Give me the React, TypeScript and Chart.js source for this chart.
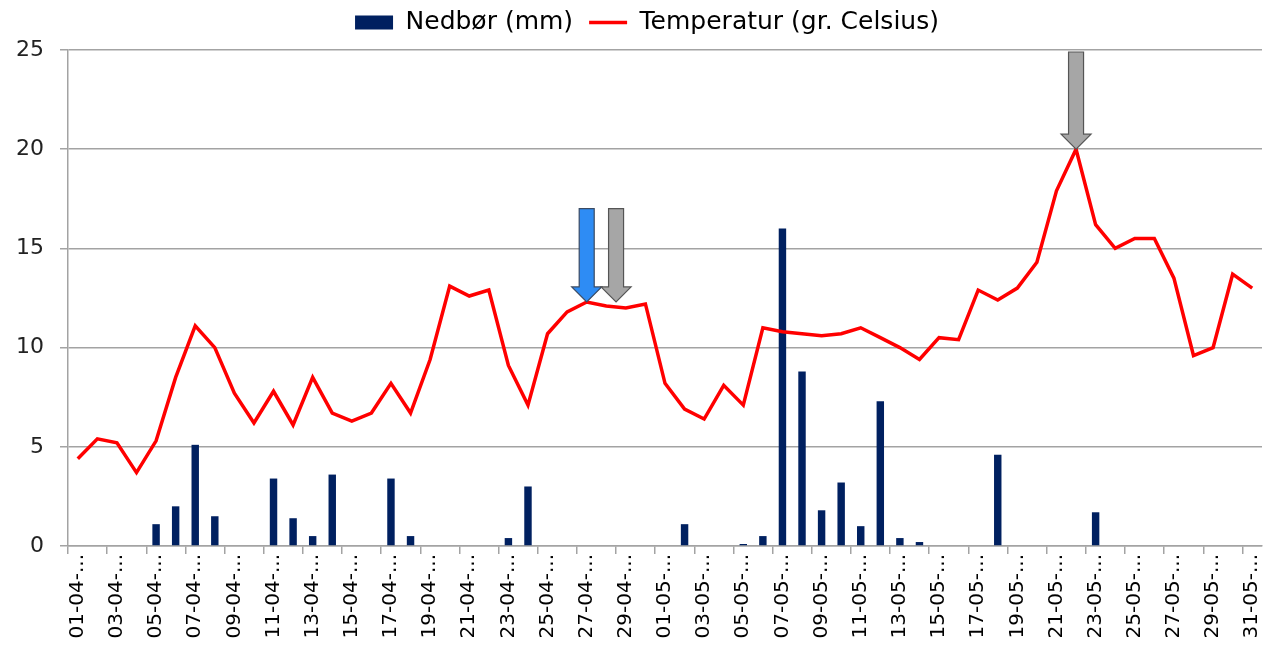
import React, { useEffect, useRef } from 'react';
import { Chart, registerables } from 'chart.js';

Chart.register(...registerables);

const dates = [
  '01-04', '02-04', '03-04', '04-04', '05-04', '06-04', '07-04', '08-04', '09-04', '10-04',
  '11-04', '12-04', '13-04', '14-04', '15-04', '16-04', '17-04', '18-04', '19-04', '20-04',
  '21-04', '22-04', '23-04', '24-04', '25-04', '26-04', '27-04', '28-04', '29-04', '30-04',
  '01-05', '02-05', '03-05', '04-05', '05-05', '06-05', '07-05', '08-05', '09-05', '10-05',
  '11-05', '12-05', '13-05', '14-05', '15-05', '16-05', '17-05', '18-05', '19-05', '20-05',
  '21-05', '22-05', '23-05', '24-05', '25-05', '26-05', '27-05', '28-05', '29-05', '30-05',
  '31-05',
];

const tickLabels = dates.map((d) => d + '-...');

const precipitation = [
  0, 0, 0, 0, 1.1, 2.0, 5.1, 1.5, 0, 0,
  3.4, 1.4, 0.5, 3.6, 0, 0, 3.4, 0.5, 0, 0,
  0, 0, 0.4, 3.0, 0, 0, 0, 0, 0, 0,
  0, 1.1, 0, 0, 0.1, 0.5, 16.0, 8.8, 1.8, 3.2,
  1.0, 7.3, 0.4, 0.2, 0, 0, 0, 4.6, 0, 0,
  0, 0, 1.7, 0, 0, 0, 0, 0, 0, 0,
  0,
];

const temperature = [
  4.4, 5.4, 5.2, 3.7, 5.3, 8.5, 11.1, 10.0, 7.7, 6.2,
  7.8, 6.1, 8.5, 6.7, 6.3, 6.7, 8.2, 6.7, 9.4, 13.1,
  12.6, 12.9, 9.1, 7.1, 10.7, 11.8, 12.3, 12.1, 12.0, 12.2,
  8.2, 6.9, 6.4, 8.1, 7.1, 11.0, 10.8, 10.7, 10.6, 10.7,
  11.0, 10.5, 10.0, 9.4, 10.5, 10.4, 12.9, 12.4, 13.0, 14.3,
  17.9, 20.0, 16.2, 15.0, 15.5, 15.5, 13.5, 9.6, 10.0, 13.7,
  13.0,
];

const yMin = 0;
const yMax = 25;
const yStep = 5;

// Annotation arrows (category index, top value, tip value)
const arrowCategory = [26, 27.5, 51];
const arrowTop = [17, 17, 24.9];
const arrowTip = [12.3, 12.3, 20.0];
const arrowFill = ['#2e8cf4', '#a6a6a6', '#a6a6a6'];
const arrowStroke = ['#3b4b63', '#555555', '#555555'];

const arrowPlugin = {
  id: 'arrows',
  afterDatasetsDraw(chart: any) {
    const { ctx, scales } = chart;
    const x = scales.x;
    const y = scales.y;
    const shaftHalf = 7.5;
    const headHalf = 15;
    const headLen = 15;
    ctx.save();
    arrowCategory.forEach((c, i) => {
      const cx = x.getPixelForValue(c);
      const top = y.getPixelForValue(arrowTop[i]);
      const tip = y.getPixelForValue(arrowTip[i]);
      const hs = tip - headLen;
      ctx.beginPath();
      ctx.moveTo(cx - shaftHalf, top);
      ctx.lineTo(cx + shaftHalf, top);
      ctx.lineTo(cx + shaftHalf, hs);
      ctx.lineTo(cx + headHalf, hs);
      ctx.lineTo(cx, tip);
      ctx.lineTo(cx - headHalf, hs);
      ctx.lineTo(cx - shaftHalf, hs);
      ctx.closePath();
      ctx.fillStyle = arrowFill[i];
      ctx.fill();
      ctx.lineWidth = 1.2;
      ctx.strokeStyle = arrowStroke[i];
      ctx.stroke();
    });
    ctx.restore();
  },
};

// nudges the legend block right and up, as in the original
const legendShiftPlugin = {
  id: 'legendShift',
  afterLayout(chart: any) {
    const lg = chart.legend;
    if (lg) {
      lg.left += 16;
      lg.right += 16;
      lg.top -= 5;
      lg.bottom -= 5;
    }
  },
};

export default function App() {
  const canvasRef = useRef<HTMLCanvasElement | null>(null);

  useEffect(() => {
    if (!canvasRef.current) return;
    const gridColor = '#a3a3a3';
    const chart = new Chart(canvasRef.current, {
      type: 'bar',
      data: {
        labels: tickLabels,
        datasets: [
          {
            type: 'bar',
            label: 'Nedbør (mm)',
            data: precipitation,
            backgroundColor: '#002060',
            borderWidth: 0,
            barPercentage: 0.38,
            categoryPercentage: 1,
            pointStyle: 'rect',
            order: 2,
          } as any,
          {
            type: 'line',
            label: 'Temperatur (gr. Celsius)',
            data: temperature,
            borderColor: '#ff0000',
            backgroundColor: '#ff0000',
            borderWidth: 3.5,
            pointRadius: 0,
            pointHoverRadius: 0,
            pointStyle: 'line',
            tension: 0,
            order: 1,
          } as any,
        ],
      },
      options: {
        animation: false,
        responsive: true,
        maintainAspectRatio: false,
        layout: { padding: { left: 0, right: 4, top: -8, bottom: 0 } },
        plugins: {
          legend: {
            position: 'top',
            labels: {
              usePointStyle: true,
              pointStyleWidth: 38,
              boxHeight: 14,
              padding: 16,
              color: '#000',
              font: { family: "'DejaVu Sans'", size: 25 },
              sort: (a: any, b: any) => a.datasetIndex - b.datasetIndex,
            },
          },
          tooltip: { enabled: false },
        },
        scales: {
          x: {
            offset: true,
            grid: {
              offset: true,
              drawOnChartArea: false,
              drawTicks: true,
              tickLength: 8,
              lineWidth: 1.5,
              color: (c: any) =>
                c.index !== undefined && c.index % 2 === 0 ? gridColor : 'rgba(0,0,0,0)',
            },
            border: { color: gridColor, width: 1.5 },
            ticks: {
              autoSkip: false,
              maxRotation: 90,
              minRotation: 90,
              padding: 0,
              color: '#000',
              font: { family: "'DejaVu Sans'", size: 20 },
              callback: (_v: any, i: number) => (i % 2 === 0 ? tickLabels[i] : ''),
            },
            afterFit: (s: any) => {
              s.height = 100;
              s.paddingLeft = 0;
              s.paddingRight = 0;
            },
          },
          y: {
            min: yMin,
            max: yMax,
            ticks: {
              stepSize: yStep,
              padding: 16,
              color: '#222',
              font: { family: "'DejaVu Sans'", size: 22 },
            },
            grid: { color: gridColor, lineWidth: 1.5, tickLength: 8 },
            border: { color: gridColor, width: 1.5 },
            afterFit: (s: any) => {
              s.width = 68;
              s.paddingTop = 50;
            },
          },
        },
      },
      plugins: [arrowPlugin, legendShiftPlugin],
    });
    return () => chart.destroy();
  }, []);

  return (
    <div style={{ position: 'fixed', left: 0, top: 0, width: 1266, height: 646, background: '#fff' }}>
      <canvas ref={canvasRef} />
    </div>
  );
}
